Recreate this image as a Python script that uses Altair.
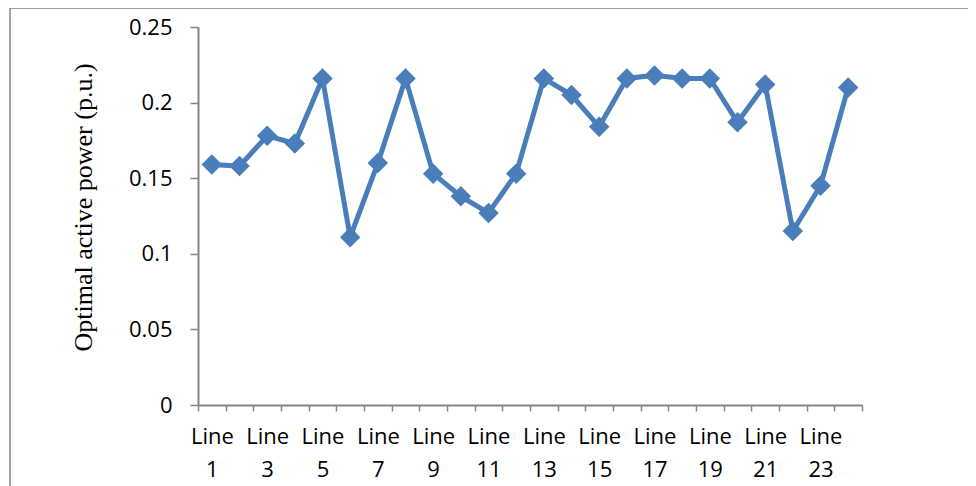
import altair as alt
import pandas as pd

categories = [f"Line {i}" for i in range(1, 25)]
values = [0.159, 0.158, 0.178, 0.173, 0.216, 0.111, 0.160, 0.216, 0.153, 0.138,
          0.127, 0.153, 0.216, 0.205, 0.184, 0.216, 0.218, 0.216, 0.216, 0.187,
          0.212, 0.115, 0.145, 0.210]

df = pd.DataFrame({"line": categories, "power": values})

BLUE = "#4a7ebb"
GREY = "#868686"
FONT = "Open Sans"

frame = alt.Chart(pd.DataFrame({"a": [0]})).mark_rect(
    fill="transparent", stroke=GREY, strokeWidth=1.5
).encode(
    x=alt.value(-188), x2=alt.value(1500),
    y=alt.value(-19), y2=alt.value(900),
)

line = alt.Chart(df).mark_line(
    color=BLUE, strokeWidth=5,
    point=alt.OverlayMarkDef(shape="diamond", size=420, color=BLUE, filled=True, opacity=1),
).encode(
    x=alt.X("line:N", sort=categories,
            scale=alt.Scale(type="band", paddingInner=0, paddingOuter=0),
            axis=alt.Axis(
                title=None, labelAngle=0, tickBand="extent",
                labelExpr="toNumber(split(datum.label, ' ')[1]) % 2 == 1 ? split(datum.label, ' ') : ''",
                labelFont=FONT, labelFontSize=22, labelColor="#000000",
                labelLineHeight=33, labelPadding=15, labelBaseline="top",
                tickSize=6, tickColor=GREY, domainColor=GREY, domainWidth=2,
                tickWidth=1.5, grid=False, labelOverlap=False,
            )),
    y=alt.Y("power:Q", scale=alt.Scale(domain=[0, 0.25], nice=False),
            axis=alt.Axis(
                title="Optimal active power (p.u.)", values=[0, 0.05, 0.1, 0.15, 0.2, 0.25],
                format="~g", labelFont=FONT, labelFontSize=22, labelColor="#000000",
                labelPadding=18, tickSize=8, tickColor=GREY, tickWidth=1.5,
                domainColor=GREY, domainWidth=2, grid=False,
                titleFont="Liberation Serif", titleFontSize=26, titleFontWeight="normal",
                titleColor="#000000", titleX=-115, titleY=180, titleAlign="center",
                titleBaseline="middle", titleAngle=270,
            )),
)

chart = alt.layer(frame, line).properties(
    width=664, height=378,
    autosize=alt.AutoSizeParams(type="none"),
    padding={"left": 190, "top": 19, "right": 106, "bottom": 81},
).configure_view(stroke=None)

chart.save("out.html", embed_options={"renderer": "svg", "actions": False})
